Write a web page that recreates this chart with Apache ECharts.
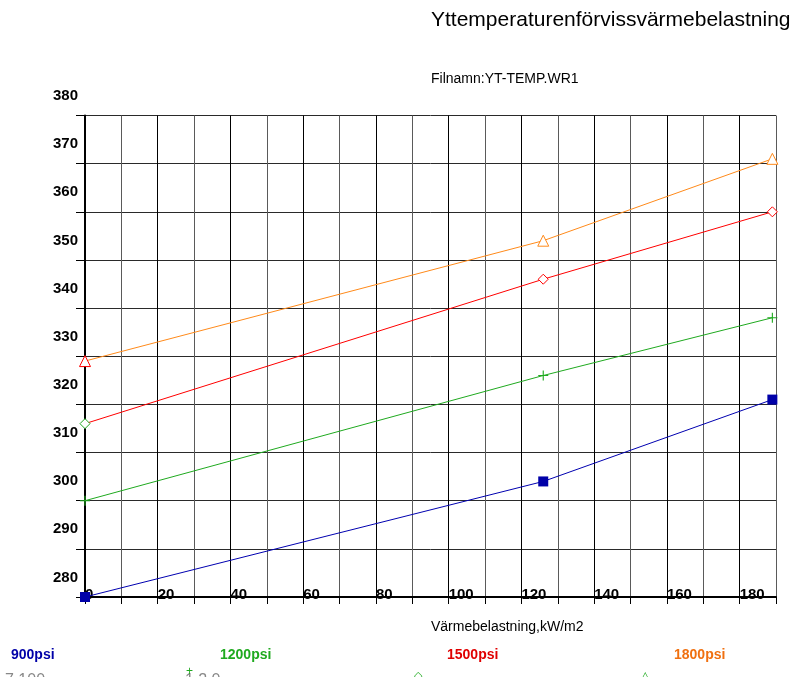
<!DOCTYPE html>
<html><head><meta charset="utf-8">
<script src="https://cdn.jsdelivr.net/npm/echarts@6/dist/echarts.min.js"></script>
<style>html,body{margin:0;padding:0;background:#fff}#c{width:803px;height:677px}</style>
</head><body><div id="c"></div>
<script>
// data
const xValues = [0, 126, 189];
const psi900 = [280, 304, 321];
const psi1200 = [300, 326, 338];
const psi1500 = [316, 346, 360];
const psi1800 = [329, 354, 371];
const seriesNames = ['900psi', '1200psi', '1500psi', '1800psi'];
const xTicks = [0, 20, 40, 60, 80, 100, 120, 140, 160, 180];
const yTicks = [280, 290, 300, 310, 320, 330, 340, 350, 360, 370, 380];

const FONT = '"Liberation Sans", Arial, sans-serif';
const plus = 'path://M4,0h1v4h4v1h-4v4h-1v-4h-4v-1h4z';
function pts(vals) { return xValues.map((x, i) => [x, vals[i]]); }

const chart = echarts.init(document.getElementById('c'), null, {renderer: 'canvas'});
const option = {
  animation: false,
  backgroundColor: '#fff',
  grid: {left: 85, right: 27, top: 115.5, bottom: 80, containLabel: false},
  xAxis: {
    type: 'value', min: 0, max: 190, interval: 10,
    axisLine: {show: true, onZero: false, lineStyle: {color: '#000', width: 2}},
    axisTick: {show: true, length: 7, lineStyle: {color: '#000', width: 1}},
    axisLabel: {
      show: true, margin: -2, verticalAlign: 'middle', align: 'left',
      fontFamily: FONT, fontSize: 15, fontWeight: 'bold', color: '#000',
      formatter: v => xTicks.indexOf(v) >= 0 ? String(v) : ''
    },
    splitLine: {show: true, lineStyle: {color: ['#000', '#5a5a5a'], width: 1}}
  },
  yAxis: {
    type: 'value', min: 280, max: 380, interval: 10,
    axisLine: {show: true, onZero: false, lineStyle: {color: '#000', width: 2}},
    axisTick: {show: true, length: 9, lineStyle: {color: '#000', width: 1}},
    axisLabel: {
      show: true, margin: 7, verticalAlign: 'bottom', padding: [0, 0, 12, 0],
      fontFamily: FONT, fontSize: 15, fontWeight: 'bold', color: '#000',
      formatter: v => yTicks.indexOf(v) >= 0 ? String(v) : ''
    },
    splitLine: {show: true, lineStyle: {color: '#2a2a2a', width: 1}}
  },
  series: [
    {
      name: seriesNames[0], type: 'line', data: pts(psi900),
      symbol: 'rect', symbolSize: 10,
      lineStyle: {color: '#0000b0', width: 1},
      itemStyle: {color: '#0000a8'}
    },
    {
      name: seriesNames[1], type: 'line', data: pts(psi1200),
      symbol: plus, symbolSize: 10, symbolKeepAspect: true,
      lineStyle: {color: '#1faa1f', width: 1},
      itemStyle: {color: '#1faa1f'}
    },
    {
      name: seriesNames[2], type: 'line',
      data: pts(psi1500).map((p, i) => i === 0 ? {value: p, itemStyle: {borderColor: '#1faa1f'}} : p),
      symbol: 'diamond', symbolSize: 10,
      lineStyle: {color: '#ff0000', width: 1},
      itemStyle: {color: '#fff', borderColor: '#ff0000', borderWidth: 1}
    },
    {
      name: seriesNames[3], type: 'line',
      data: pts(psi1800).map((p, i) => i === 0 ? {value: p, itemStyle: {borderColor: '#ff0000'}} : p),
      symbol: 'triangle', symbolSize: 11,
      lineStyle: {color: '#ff8a1a', width: 1},
      itemStyle: {color: '#fff', borderColor: '#ff8a1a', borderWidth: 1}
    }
  ],
  graphic: [
    {type: 'text', left: 431, top: 10, style: {text: 'Yttemperaturenförvissvärmebelastning', font: '21px ' + FONT, fill: '#000'}},
    {type: 'text', left: 431, top: 72, style: {text: 'Filnamn:YT-TEMP.WR1', font: '14px ' + FONT, fill: '#000'}},
    {type: 'text', left: 431, top: 620, style: {text: 'Värmebelastning,kW/m2', font: '14px ' + FONT, fill: '#000'}},
    {type: 'text', left: 11, top: 648, style: {text: seriesNames[0], font: 'bold 14px ' + FONT, fill: '#0000a8'}},
    {type: 'text', left: 220, top: 648, style: {text: seriesNames[1], font: 'bold 14px ' + FONT, fill: '#1faa1f'}},
    {type: 'text', left: 447, top: 648, style: {text: seriesNames[2], font: 'bold 14px ' + FONT, fill: '#e00000'}},
    {type: 'text', left: 674, top: 648, style: {text: seriesNames[3], font: 'bold 14px ' + FONT, fill: '#f07010'}},
    {type: 'text', left: 5, top: 673, style: {text: '7 100', font: '16px ' + FONT, fill: '#888'}},
    {type: 'text', left: 176, top: 673, style: {text: '  1 2 0', font: '16px ' + FONT, fill: '#888'}},
    {type: 'text', left: 186, top: 666, style: {text: '+', font: '12px ' + FONT, fill: '#1faa1f'}},
    {type: 'text', left: 414, top: 670, style: {text: '◇', font: '11px ' + FONT, fill: '#1faa1f'}},
    {type: 'text', left: 641, top: 670, style: {text: '△', font: '11px ' + FONT, fill: '#1faa1f'}}
  ]
};
chart.setOption(option);
</script>
</body></html>
